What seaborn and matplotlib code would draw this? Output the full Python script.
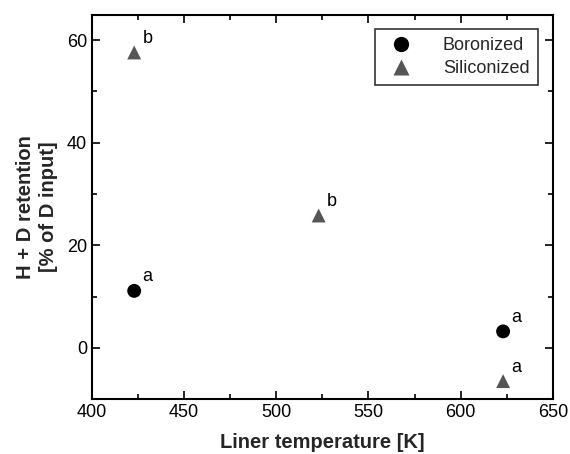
import matplotlib
matplotlib.use("Agg")
import matplotlib.pyplot as plt
import seaborn as sns
import pandas as pd
from matplotlib.ticker import MultipleLocator

# Data
boron_T = [423, 623]
boron_R = [11.1, 3.2]
boron_lab = ["a", "a"]
silic_T = [423, 523, 623]
silic_R = [57.6, 25.8, -6.5]
silic_lab = ["b", "b", "a"]

df = pd.DataFrame({
    "T": boron_T + silic_T,
    "R": boron_R + silic_R,
    "lab": boron_lab + silic_lab,
    "Wall": ["Boronized"] * len(boron_T) + ["Siliconized"] * len(silic_T),
})

sns.set_theme(style="ticks")
plt.rcParams["font.family"] = ["Liberation Sans", "DejaVu Sans"]

fig = plt.figure(figsize=(5.7, 4.54), dpi=100)
ax = fig.add_axes([0.161, 0.121, 0.809, 0.847])

sns.scatterplot(data=df, x="T", y="R", hue="Wall", style="Wall",
                palette={"Boronized": "black", "Siliconized": "#555555"},
                markers={"Boronized": "o", "Siliconized": "^"},
                s=100, edgecolor="none", ax=ax, legend=True)

for _, r in df.iterrows():
    ax.annotate(r["lab"], (r["T"], r["R"]), xytext=(6, 4), textcoords="offset points",
                fontsize=13, color="black", ha="left", va="bottom")

ax.set_xlim(400, 650)
ax.set_ylim(-10, 65)
ax.xaxis.set_major_locator(MultipleLocator(50))
ax.xaxis.set_minor_locator(MultipleLocator(25))
ax.yaxis.set_major_locator(MultipleLocator(20))
ax.yaxis.set_minor_locator(MultipleLocator(10))
ax.tick_params(which="both", direction="in", top=True, right=True, width=1.2, colors="black", labelsize=13)
ax.tick_params(which="major", length=6)
ax.tick_params(which="minor", length=3.5)
for sp in ax.spines.values():
    sp.set_linewidth(1.5)
    sp.set_color("black")

ax.set_xlabel("Liner temperature [K]", fontsize=14.5, fontweight="bold", labelpad=9)
ax.set_ylabel("H + D retention\n[% of D input]", fontsize=14.5, fontweight="bold", labelpad=6,
              linespacing=1.3)

leg = ax.legend(loc="upper right", fontsize=13, frameon=True, fancybox=False,
                edgecolor="black", borderpad=0.45, handletextpad=1.3, labelspacing=0.35,
                borderaxespad=0, bbox_to_anchor=(0.967, 0.963), markerscale=1.1)
leg.get_frame().set_linewidth(1.2)

fig.savefig("out.png", dpi=100)
